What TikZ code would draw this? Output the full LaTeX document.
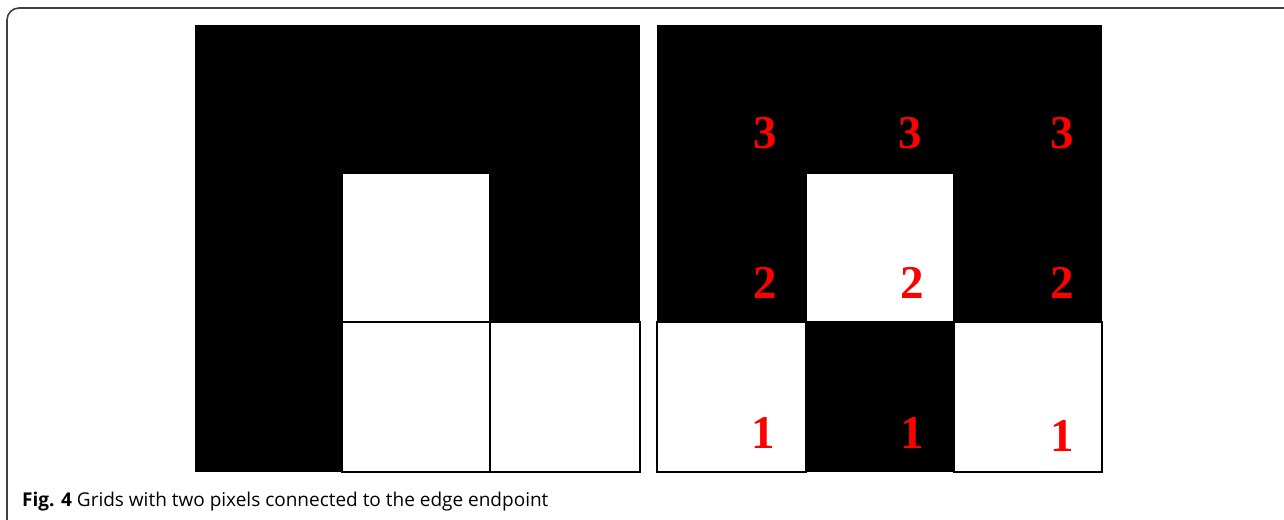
\documentclass[tikz,border=0pt]{standalone}
\usepackage{fontspec}
\setmainfont{Liberation Serif}
\newfontfamily\capfont{Open Sans}
\begin{document}
\begin{tikzpicture}[x=1pt,y=-1pt,
  whitecell/.style={fill=white,draw=black,line width=1.4pt},
  num/.style={text=red,font=\bfseries\fontsize{47}{47}\selectfont,inner sep=0pt,anchor=center},
  frame/.style={draw=black!75,line width=1.6pt,rounded corners=12pt}]
\useasboundingbox (0,0) rectangle (1284,519);
% outer frame
\draw[frame] (1284,8) -- (7,8) -- (7,530);
% left grid
\fill[black] (195,25) rectangle (640,472);
\draw[whitecell] (342,173) rectangle (490,322);
\draw[whitecell] (342,322) rectangle (490,472);
\draw[whitecell] (490,322) rectangle (640,472);
% right grid
\fill[black] (657,25) rectangle (1102,472);
\draw[whitecell] (806,173) rectangle (954,322);
\draw[whitecell] (657,322) rectangle (806,472);
\draw[whitecell] (954,322) rectangle (1102,472);
% numbers
\node[num] (n31) at (765,133) {3};
\node[num] (n32) at (910,133) {3};
\node[num] (n33) at (1062,133) {3};
\node[num] (n21) at (765,283) {2};
\node[num] (n22) at (912,283) {2};
\node[num] (n23) at (1062,283) {2};
\node[num] (n11) at (763,433) {1};
\node[num] (n12) at (912,433) {1};
\node[num] (n13) at (1062,436) {1};
% caption
\node[anchor=base west,inner sep=0pt,font=\capfont\fontsize{19}{22}\selectfont] (cap) at (22,506) {\textbf{Fig. 4} Grids with two pixels connected to the edge endpoint};
\end{tikzpicture}
\end{document}
